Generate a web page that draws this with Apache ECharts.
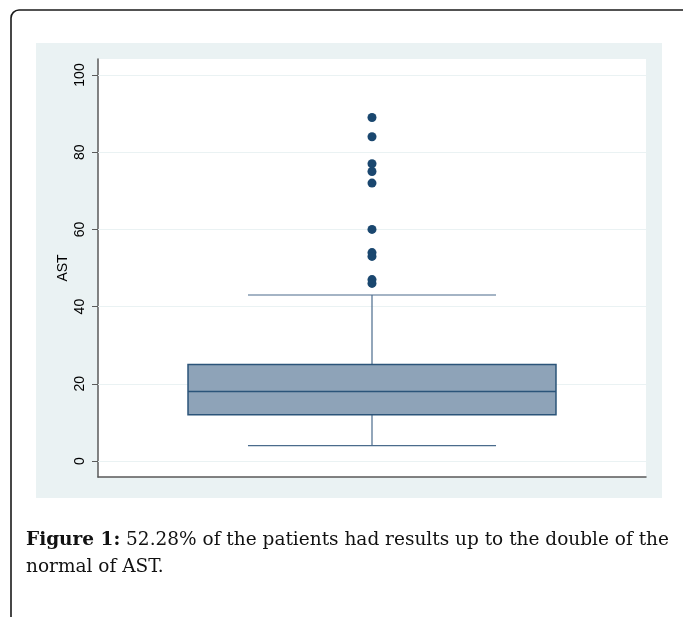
<!DOCTYPE html>
<html>
<head>
<meta charset="utf-8">
<script src="https://cdn.jsdelivr.net/npm/echarts@6/dist/echarts.min.js"></script>
<style>
  html, body { margin: 0; padding: 0; background: #ffffff; }
  #chart { width: 683px; height: 617px; }
</style>
</head>
<body>
<div id="chart"></div>
<script>
// AST distribution: box summary, outlying observations, axis ticks
const categories = ['AST'];
const boxStats = [[0, 4, 12, 18, 25, 43]]; // [category, lower whisker, Q1, median, Q3, upper whisker]
const outliers = [89, 84, 77, 75, 72, 60, 54, 53, 47, 46];
const yTicks = [0, 20, 40, 60, 80, 100];
const captionBold = 'Figure 1:';
const captionLine1 = ' 52.28% of the patients had results up to the double of the';
const captionLine2 = 'normal of AST.';

const navy = '#1a476f';
const boxFill = '#8ea3b8';
const panel = '#eaf2f3';
const captionFont = 'DejaVu Serif';
const captionSize = 18.5;

const chart = echarts.init(document.getElementById('chart'), null, { renderer: 'canvas' });

const option = {
  animation: false,
  backgroundColor: '#ffffff',
  grid: {
    left: 98, right: 37, top: 59, bottom: 140,
    show: true, backgroundColor: '#ffffff', borderWidth: 0
  },
  xAxis: {
    type: 'category',
    data: categories,
    boundaryGap: true,
    axisLine: { show: true, onZero: false, lineStyle: { color: '#5a5a5a', width: 1.5 } },
    axisTick: { show: false },
    axisLabel: { show: false },
    splitLine: { show: false }
  },
  yAxis: {
    type: 'value',
    min: -4.145,
    max: 104.145,
    name: 'AST',
    nameLocation: 'middle',
    nameRotate: 90,
    nameGap: 28,
    nameMoveOverlap: false,
    nameTextStyle: { fontFamily: 'Liberation Sans', fontSize: 14, color: '#000' },
    axisLine: { show: true, lineStyle: { color: '#5a5a5a', width: 1.5 } },
    axisTick: { show: true, length: 6, customValues: yTicks, lineStyle: { color: '#5a5a5a', width: 1 } },
    axisLabel: {
      customValues: yTicks, rotate: 90, margin: 11,
      fontFamily: 'Liberation Sans', fontSize: 14, color: '#000'
    },
    splitLine: { show: false }
  },
  graphic: [
    {
      type: 'rect', z: -10, silent: true,
      shape: { x: 36, y: 43, width: 626, height: 455 },
      style: { fill: panel }
    },
    {
      type: 'rect', z: 10, silent: true,
      shape: { x: 11, y: 10, width: 720, height: 700, r: 8 },
      style: { fill: null, stroke: '#1a1a1a', lineWidth: 1.6 }
    },
    {
      type: 'text', left: 26, top: 531, silent: true,
      style: {
        text: '{b|' + captionBold + '}{n|' + captionLine1 + '}',
        rich: {
          b: { fontFamily: captionFont, fontSize: captionSize, fontWeight: 'bold', fill: '#111' },
          n: { fontFamily: captionFont, fontSize: captionSize, fill: '#111' }
        }
      }
    },
    {
      type: 'text', left: 26, top: 558, silent: true,
      style: { text: captionLine2, fontFamily: captionFont, fontSize: captionSize, fill: '#111' }
    }
  ],
  series: [
    {
      // horizontal reference lines at each labelled tick
      type: 'line', z: 1, data: [], silent: true,
      markLine: {
        z: 1, silent: true, symbol: 'none', label: { show: false },
        lineStyle: { color: panel, width: 1.2, type: 'solid' },
        data: yTicks.map(v => ({ yAxis: v }))
      }
    },
    {
      type: 'custom', z: 2,
      data: boxStats,
      renderItem: function (params, api) {
        const cat = api.value(0);
        const band = api.size([1, 0])[0];
        const boxW = band * 0.6715;
        const capW = band * 0.4526;
        const x = api.coord([cat, 0])[0];
        const yLow = api.coord([cat, api.value(1)])[1];
        const yQ1 = api.coord([cat, api.value(2)])[1];
        const yMed = api.coord([cat, api.value(3)])[1];
        const yQ3 = api.coord([cat, api.value(4)])[1];
        const yHigh = api.coord([cat, api.value(5)])[1];
        const wStyle = { stroke: '#4a6b8c', lineWidth: 1.2 };
        return {
          type: 'group',
          children: [
            { type: 'line', shape: { x1: x, y1: yQ3, x2: x, y2: yHigh }, style: wStyle },
            { type: 'line', shape: { x1: x, y1: yQ1, x2: x, y2: yLow }, style: wStyle },
            { type: 'line', shape: { x1: x - capW / 2, y1: yHigh, x2: x + capW / 2, y2: yHigh }, style: wStyle },
            { type: 'line', shape: { x1: x - capW / 2, y1: yLow, x2: x + capW / 2, y2: yLow }, style: wStyle },
            {
              type: 'rect',
              shape: { x: x - boxW / 2, y: yQ3, width: boxW, height: yQ1 - yQ3 },
              style: { fill: boxFill, stroke: '#2b5479', lineWidth: 1.5 }
            },
            { type: 'line', shape: { x1: x - boxW / 2, y1: yMed, x2: x + boxW / 2, y2: yMed }, style: { stroke: '#2b5479', lineWidth: 1.5 } }
          ]
        };
      }
    },
    {
      type: 'scatter', z: 3,
      symbol: 'circle', symbolSize: 9,
      itemStyle: { color: navy, opacity: 1 },
      data: outliers.map(v => [0, v])
    }
  ]
};

chart.setOption(option);
</script>
</body>
</html>
